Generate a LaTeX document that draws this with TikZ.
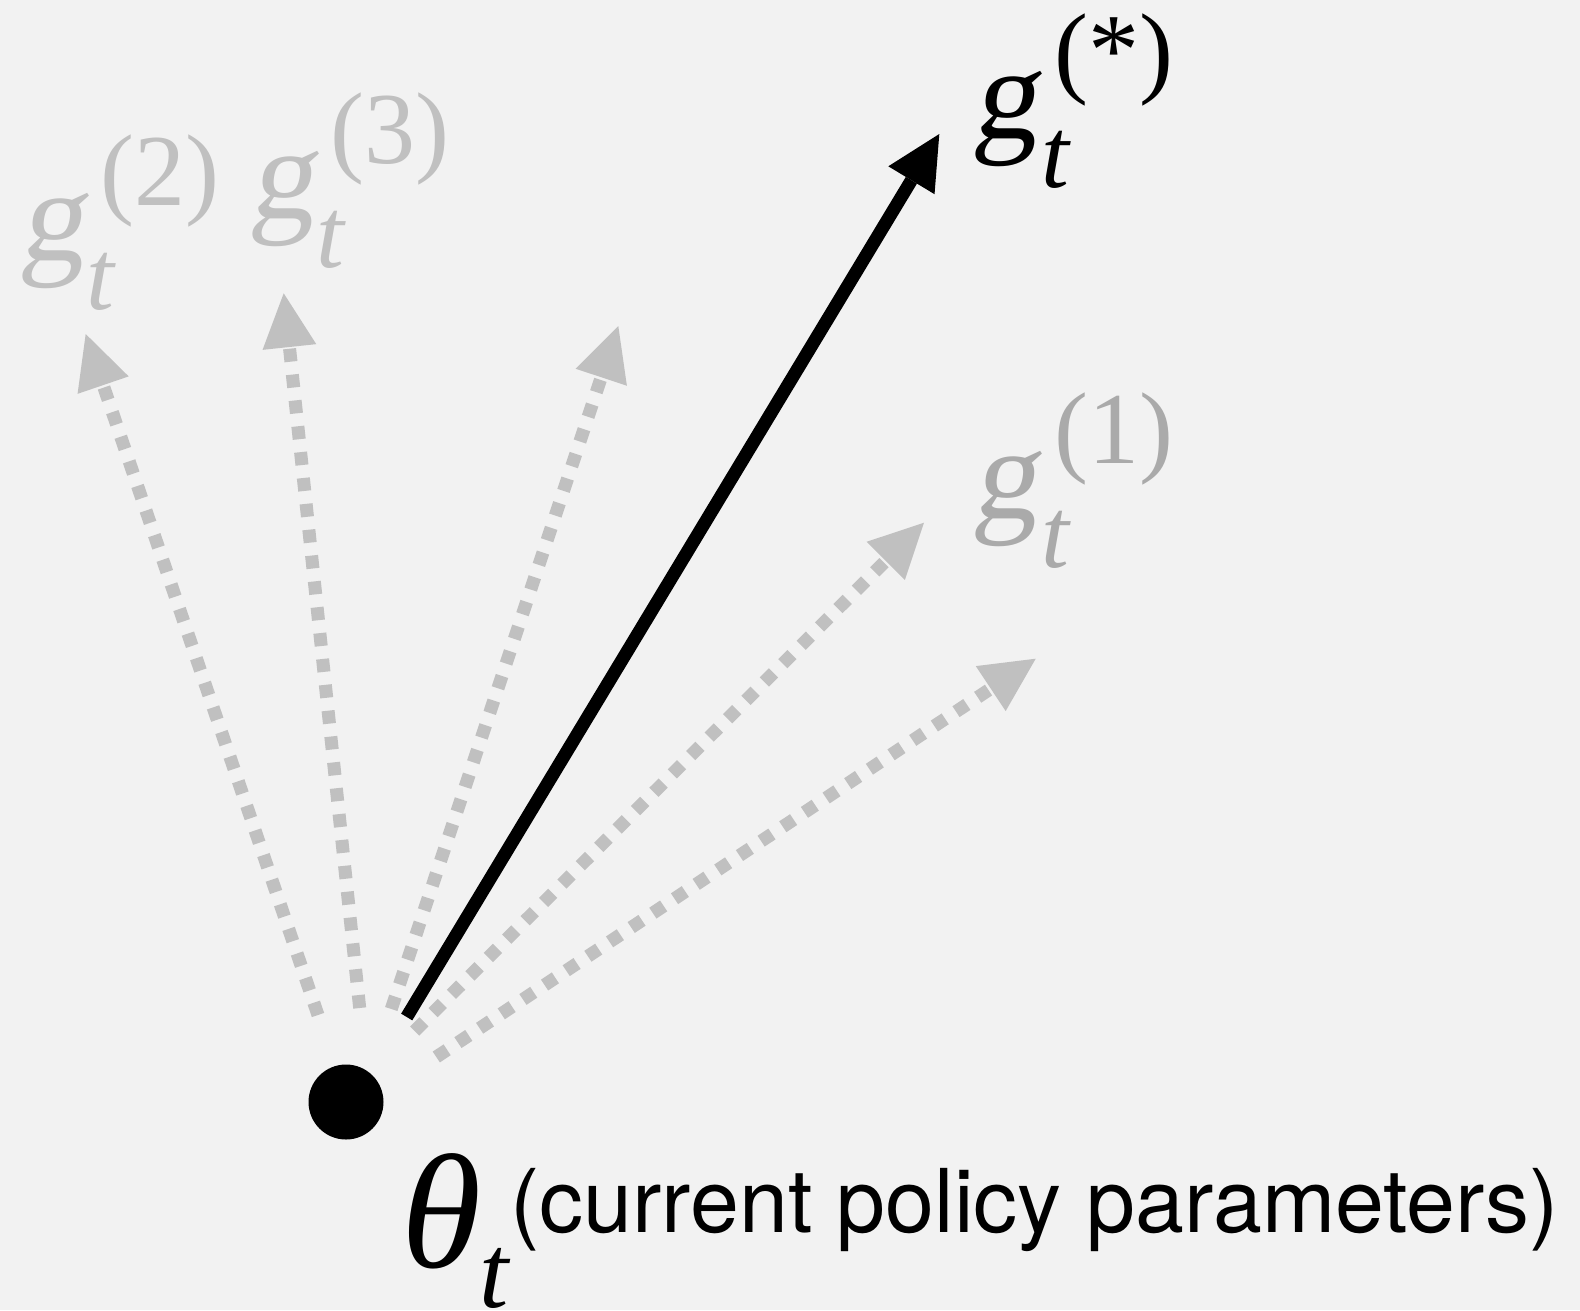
\documentclass[tikz,border=0pt]{standalone}
\usepackage{fontspec}
\usepackage{graphicx}
\setmainfont{Liberation Serif}
\setsansfont{TeX Gyre Heros}
\newfontfamily\gslantfont[FakeSlant=0.15]{Liberation Serif}
\usetikzlibrary{arrows.meta}
\definecolor{bg}{HTML}{F2F2F2}
\definecolor{lightg}{HTML}{C0C0C0}
\definecolor{midg}{HTML}{AAAAAA}
\tikzset{
  grayarrow/.style={draw=lightg, line width=13pt, dash pattern=on 13pt off 13pt,
    -{Triangle[length=54pt,width=54pt,line width=0pt]}},
  blackarrow/.style={draw=black, line width=13pt,
    -{Triangle[length=54pt,width=54pt,line width=0pt]}},
  gmain/.style={anchor=base west, inner sep=0pt, font=\gslantfont\fontsize{131}{131}\selectfont},
  gsub/.style={anchor=base west, inner sep=0pt, font=\fontsize{100}{100}\selectfont\itshape},
  gsup/.style={anchor=base west, inner sep=0pt, font=\fontsize{102}{102}\selectfont},
}
\begin{document}
\begin{tikzpicture}[x=1pt,y=-1pt]
\fill[bg] (0,0) rectangle (1580,1310);
\useasboundingbox (0,0) rectangle (1580,1310);

% start and tip coordinates
\coordinate (s2) at (318,1015);   \coordinate (e2) at (85.7,334);
\coordinate (s3) at (359.7,1008); \coordinate (e3) at (283.7,293.3);
\coordinate (s4) at (391.3,1009); \coordinate (e4) at (618.3,326);
\coordinate (s5) at (414.7,1031); \coordinate (e5) at (924,522.7);
\coordinate (s6) at (436.3,1057); \coordinate (e6) at (1035.7,658.7);
\coordinate (sb) at (406.7,1017); \coordinate (eb) at (939.3,134);

\draw[grayarrow] (s2) -- (e2);
\draw[grayarrow] (s3) -- (e3);
\draw[grayarrow] (s4) -- (e4);
\draw[grayarrow] (s5) -- (e5);
\draw[grayarrow] (s6) -- (e6);
\draw[blackarrow] (sb) -- (eb);

% current parameters dot
\node[circle, fill=black, minimum size=75pt, inner sep=0pt] (theta) at (346,1102) {};

% labels g_t^{(*)}
\node[gmain, text=black] (gs) at (972,138.5) {g};
\node[gsub, text=black] (gst) at (1041,187) {t};
\node[gsup, text=black] (gss) at (1054,84) {(*)};

% g_t^{(1)}
\node[gmain, text=midg] (g1) at (972,518.5) {g};
\node[gsub, text=midg] (g1t) at (1041,567) {t};
\node[gsup, text=midg] (g1s) at (1054,463.7) {(1)};

% g_t^{(2)}
\node[gmain, text=lightg] (g2) at (19,260.5) {g};
\node[gsub, text=lightg] (g2t) at (86,309) {t};
\node[gsup, text=lightg] (g2s) at (100,205.3) {(2)};

% g_t^{(3)}
\node[gmain, text=lightg] (g3) at (249,218.5) {g};
\node[gsub, text=lightg] (g3t) at (316,267) {t};
\node[gsup, text=lightg] (g3s) at (330,163.7) {(3)};

% theta_t label
\node[anchor=base west, inner sep=0pt, font=\fontsize{163}{163}\selectfont\itshape] (th) at (401,1267) {θ};
\node[anchor=base west, inner sep=0pt, font=\fontsize{105}{105}\selectfont\itshape] (tht) at (479,1307) {t};
\node[anchor=base west, inner sep=0pt, font=\sffamily\fontsize{88}{88}\selectfont] (cap) at (510,1232) {(current policy parameters)};
\end{tikzpicture}
\end{document}
